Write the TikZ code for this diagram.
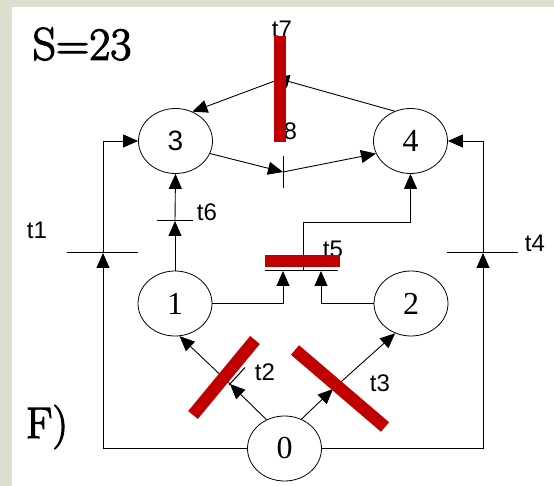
\documentclass[tikz,border=0pt]{standalone}
\usepackage{fontspec}
\newfontfamily\lsans{Liberation Sans}
\newfontfamily\lserif{Liberation Serif}
\newfontfamily\lmbold[FakeBold=2.5]{Latin Modern Roman}
\usetikzlibrary{arrows.meta,shapes.geometric}
\definecolor{bgbeige}{RGB}{221,221,208}
\definecolor{barred}{RGB}{192,0,0}
\tikzset{
  place/.style={ellipse,draw,line width=0.8pt,minimum width=74pt,minimum height=65pt,inner sep=0pt},
  arc/.style={line width=0.9pt,-{Triangle[length=15pt,width=13pt]}},
  plain/.style={line width=0.9pt},
  tbar/.style={line width=1pt},
  redbar/.style={draw=barred,line width=12.5pt},
  tlbl/.style={font=\lsans\fontsize{24}{26}\selectfont,inner sep=0pt},
  bigtxt/.style={font=\lmbold\fontsize{46}{50}\selectfont,inner sep=0pt},
}
\begin{document}
\begin{tikzpicture}[x=1pt,y=-1pt]
\fill[bgbeige] (0,0) rectangle (554,486);
\fill[white] (12,7) rectangle (554,486);
\useasboundingbox (0,0) rectangle (554,486);

% places
\node[place,font=\lsans\fontsize{28}{30}\selectfont] (p3) at (175.5,141) {3};
\node[place,font=\lserif\fontsize{32}{34}\selectfont] (p4) at (410.5,141) {4};
\node[place,font=\lserif\fontsize{32}{34}\selectfont] (p1) at (175,303.5) {1};
\node[place,font=\lserif\fontsize{32}{34}\selectfont] (p2) at (411,303.5) {2};
\node[place,font=\lserif\fontsize{32}{34}\selectfont] (p0) at (284.5,448.5) {0};

% transition points
\coordinate (t1) at (103,253);
\coordinate (t4) at (483,253);
\coordinate (t6) at (175,221);
\coordinate (t5a) at (283,271);
\coordinate (t5b) at (321,271);
\coordinate (t5c) at (303,271);
\coordinate (t5k) at (303,222);
\coordinate (t7) at (280,79);
\coordinate (t8) at (283,172);
\coordinate (t2) at (230,384);
\coordinate (t3) at (333,389);

% transition bars
\draw[tbar] (67,253) -- (138,253);
\draw[tbar] (447,253) -- (518,253);
\draw[tbar] (157,221) -- (193,221);
\draw[tbar] (265,271) -- (338,271);
\draw[tbar] (283,156) -- (283,188);
\draw[tbar] (229,385) -- (245,367.5);

% arcs
\draw[arc] (p0.west) -| (t1);
\draw[arc] (t1) |- (p3.west);
\draw[arc] (p0.east) -| (t4);
\draw[arc] (t4) |- (p4.east);
\draw[arc] (p1.north) -- (t6);
\draw[arc] (t6) -- (p3.south);
\draw[arc] (p1.east) -| (t5a);
\draw[arc] (p2.west) -| (t5b);
\draw[plain] (t5c) -- (t5k);
\draw[arc] (t5k) -| (p4.south);
\draw[arc,shorten >=-6pt] (p4.118) -- (t7);
\draw[arc] (t7) -- (p3.60);
\draw[arc] (p3.-20) -- (t8);
\draw[arc] (t8) -- (p4.200);
\draw[arc] (p0.122) -- (t2);
\draw[arc] (t2) -- (p1.-82);
\draw[arc] (p0.60) -- (t3);
\draw[arc] (t3) -- (p2.-118);

% labels
\node[tlbl] (l1) at (37,230) {t1};
\node[tlbl] (l6) at (207,212) {t6};
\node[tlbl] (l5) at (333,249) {t5};
\node[tlbl] (l4) at (535,243) {t4};
\node[tlbl] (l7) at (282,29) {t7};
\node[tlbl] (l8) at (287,131) {t8};
\node[tlbl] (l2) at (265,372) {t2};
\node[tlbl] (l3) at (380,383) {t3};
\node[bigtxt] (s) at (82,44) {S=23};
\node[bigtxt,font=\lmbold\fontsize{44}{48}\selectfont] (f) at (47,427) {F)};

% red bars
\draw[redbar] (280,36) -- (280,142);
\draw[redbar] (265,261) -- (340,261);
\draw[redbar] (193,415) -- (255,340);
\draw[redbar] (295,350) -- (385,427);
\end{tikzpicture}
\end{document}
